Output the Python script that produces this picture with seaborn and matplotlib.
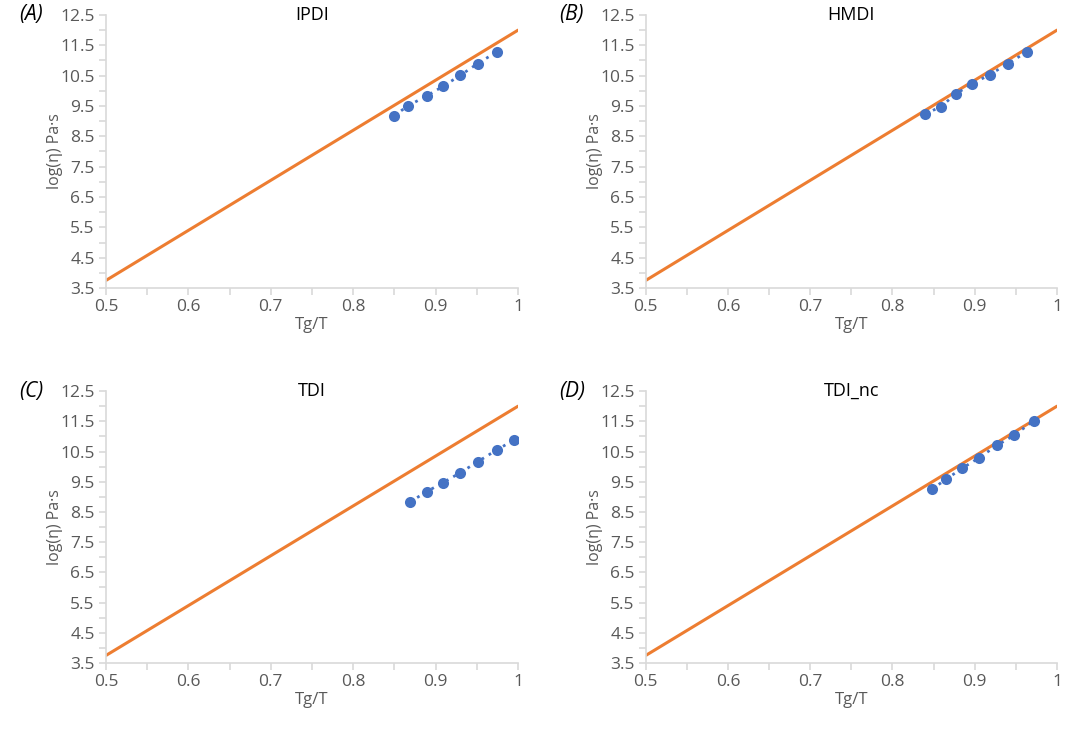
import numpy as np
import pandas as pd
import seaborn as sns
import matplotlib.pyplot as plt
from matplotlib.ticker import FixedLocator, FuncFormatter

# reference line (same in every panel)
ref_x = [0.5, 1.0]
ref_y = [3.75, 12.0]

titles = ["IPDI", "HMDI", "TDI", "TDI_nc"]
letters = ["(A)", "(B)", "(C)", "(D)"]

# measured points, Tg/T and log(eta)
ipdi_x = [0.850, 0.866, 0.889, 0.909, 0.930, 0.951, 0.974]
ipdi_y = [9.18, 9.50, 9.83, 10.15, 10.51, 10.90, 11.28]
hmdi_x = [0.840, 0.859, 0.877, 0.897, 0.918, 0.940, 0.963]
hmdi_y = [9.24, 9.48, 9.90, 10.23, 10.53, 10.89, 11.28]
tdi_x = [0.869, 0.889, 0.909, 0.930, 0.951, 0.974, 0.995]
tdi_y = [8.83, 9.17, 9.47, 9.80, 10.16, 10.55, 10.88]
tdinc_x = [0.848, 0.865, 0.885, 0.905, 0.927, 0.948, 0.972]
tdinc_y = [9.25, 9.58, 9.95, 10.29, 10.70, 11.04, 11.52]

series = [(ipdi_x, ipdi_y), (hmdi_x, hmdi_y), (tdi_x, tdi_y), (tdinc_x, tdinc_y)]

sns.set_style("white")
plt.rcParams['font.family'] = ['Open Sans', 'DejaVu Sans']

orange = "#ED7D31"
blue = "#4472C4"
grey = "#595959"
axis_grey = "#D9D9D9"

fig = plt.figure(figsize=(10.67, 7.31), dpi=100)
# axes boxes [left, bottom, width, height] in figure fractions
boxes = [
    [0.0993, 0.606, 0.3862, 0.3735],
    [0.6052, 0.606, 0.3854, 0.3735],
    [0.0993, 0.093, 0.3862, 0.372],
    [0.6052, 0.093, 0.3854, 0.372],
]

ref = pd.DataFrame({"x": ref_x, "y": ref_y})

for i, box in enumerate(boxes):
    ax = fig.add_axes(box)
    xs, ys = series[i]
    pts = pd.DataFrame({"x": xs, "y": ys})

    sns.lineplot(data=ref, x="x", y="y", color=orange, linewidth=2.2, ax=ax)
    sns.lineplot(data=pts, x="x", y="y", color=blue, linestyle=(0, (1, 2)),
                 linewidth=2, marker="o", markersize=8, markeredgewidth=0,
                 ax=ax, zorder=3)

    ax.set_xlim(0.5, 1.0)
    ax.set_ylim(3.5, 12.5)
    ax.xaxis.set_major_locator(FixedLocator([0.5, 0.6, 0.7, 0.8, 0.9, 1.0]))
    ax.xaxis.set_minor_locator(FixedLocator([0.55, 0.65, 0.75, 0.85, 0.95]))
    ax.xaxis.set_major_formatter(FuncFormatter(lambda v, p: "%g" % round(v, 2)))
    ax.yaxis.set_major_locator(FixedLocator(np.arange(3.5, 12.6, 1.0)))
    ax.yaxis.set_minor_locator(FixedLocator(np.arange(4, 12.1, 1.0)))
    ax.yaxis.set_major_formatter(FuncFormatter(lambda v, p: "%.1f" % v))

    for side in ["top", "right"]:
        ax.spines[side].set_visible(False)
    for side in ["left", "bottom"]:
        ax.spines[side].set_color(axis_grey)
        ax.spines[side].set_linewidth(1.2)
    ax.tick_params(which="both", direction="out", color=axis_grey, width=1.2,
                   labelsize=12.5, labelcolor=grey, bottom=True, left=True)
    ax.tick_params(which="major", length=5, pad=3)
    ax.tick_params(which="minor", length=5)

    ax.set_xlabel("Tg/T", fontsize=12, color=grey, labelpad=1)
    ax.set_ylabel("log(η) Pa·s", fontsize=11.5, color=grey, labelpad=-2)
    ax.set_title(titles[i], fontsize=13, color="black", y=1.0, pad=0, va="center")
    ax.text(-0.21, 1.0, letters[i], transform=ax.transAxes, fontsize=15,
            style="italic", color="black", va="center", ha="left")

fig.savefig("out.png", dpi=100)
